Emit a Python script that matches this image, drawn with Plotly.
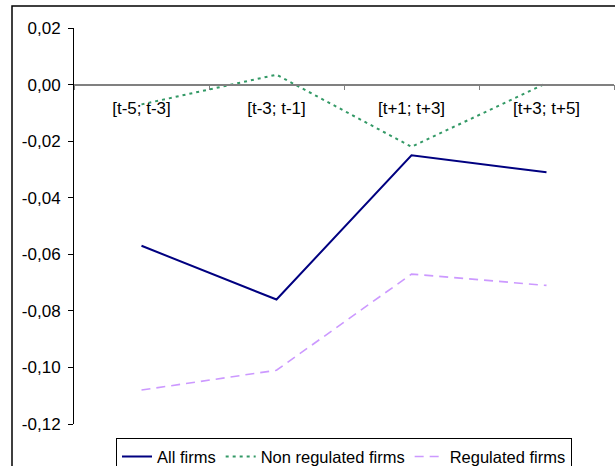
import plotly.graph_objects as go

categories = ["[t-5; t-3]", "[t-3; t-1]", "[t+1; t+3]", "[t+3; t+5]"]
all_firms = [-0.057, -0.076, -0.025, -0.031]
non_regulated = [-0.007, 0.0035, -0.022, 0.0005]
regulated = [-0.108, -0.101, -0.067, -0.071]
y_tickvals = [0.02, 0.00, -0.02, -0.04, -0.06, -0.08, -0.10, -0.12]
y_ticktext = ["0,02", "0,00", "-0,02", "-0,04", "-0,06", "-0,08", "-0,10", "-0,12"]

FONT = "Liberation Sans, Arial, sans-serif"

fig = go.Figure()
fig.add_trace(go.Scatter(x=categories, y=all_firms, mode="lines", name="All firms",
                         line=dict(color="#000080", width=2)))
fig.add_trace(go.Scatter(x=categories, y=non_regulated, mode="lines", name="Non regulated firms",
                         line=dict(color="#339966", width=2, dash="3px,4px")))
fig.add_trace(go.Scatter(x=categories, y=regulated, mode="lines", name="Regulated firms",
                         line=dict(color="#CC99FF", width=1.6, dash="9px,6px")))

ymin, ymax = -0.12, 0.02
fig.update_layout(
    width=615, height=466,
    margin=dict(l=74, r=1, t=28, b=42, autoexpand=False),
    paper_bgcolor="white", plot_bgcolor="white",
    font=dict(family=FONT, size=17, color="black"),
    showlegend=True,
    legend=dict(orientation="h", x=0.5, xanchor="center", y=-0.036, yanchor="top",
                bordercolor="black", borderwidth=1, bgcolor="white",
                font=dict(size=16.5), tracegroupgap=0, itemwidth=30),
    xaxis=dict(type="category", anchor="free", position=(0 - ymin) / (ymax - ymin),
               showline=True, linecolor="#808080", linewidth=1.5,
               ticks="outside", ticklen=5, tickcolor="#808080", tickson="boundaries",
               showgrid=False, zeroline=False, range=[-0.5, 3.5],
               ticklabelstandoff=8, tickfont=dict(size=17)),
    yaxis=dict(range=[ymin, ymax], tickvals=y_tickvals, ticktext=y_ticktext,
               showline=True, linecolor="black", linewidth=1,
               ticks="outside", ticklen=5, tickcolor="black",
               showgrid=False, zeroline=False, ticklabelstandoff=4,
               tickfont=dict(size=17)),
    shapes=[dict(type="rect", xref="paper", yref="paper",
                 x0=(12 - 74) / 540, x1=1.2, y0=-0.3, y1=(424 - 6) / 396,
                 line=dict(color="black", width=1.5), layer="below")],
)

fig.write_html("out.html")
